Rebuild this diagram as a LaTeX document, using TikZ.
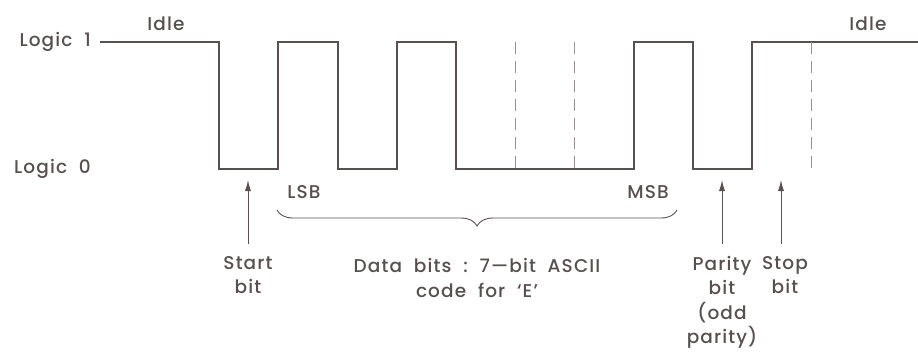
\documentclass[tikz,border=0pt]{standalone}
\usepackage{fontspec}
\setmainfont{Poppins}[UprightFont={* Medium}, LetterSpace=6]
\usepackage{xcolor}
\definecolor{wavegray}{RGB}{88,80,78}
\definecolor{guidegray}{RGB}{150,145,142}
\usetikzlibrary{arrows.meta, positioning, decorations.pathreplacing}

\begin{document}
\begin{tikzpicture}[x=1pt, y=-1pt,
    lbl/.style={font=\fontsize{18.5}{24.5}\selectfont, text=wavegray, align=center, inner sep=0pt},
    wave/.style={draw=wavegray, line width=1.3pt, line join=miter},
    guide/.style={draw=guidegray, line width=0.9pt, dash pattern=on 12pt off 7pt},
    pointer/.style={draw=wavegray, line width=0.9pt, -{Latex[length=11pt, width=6pt]}}]
  \useasboundingbox (0,0) rectangle (918,351);

  % Logic levels
  \node[lbl, anchor=east] (lvlone) at (91,42) {Logic\ \ 1};
  \node[lbl, anchor=east] (lvlzero) at (91,169) {Logic\ \ 0};
  \node[lbl] (idleleft) at (166,24) {Idle};
  \node[lbl] (idleright) at (868,24) {Idle};

  % Waveform for 'E' with odd parity
  \draw[wave] (100,42) -- (219,42) -- (219,169) -- (278,169) -- (278,42)
       -- (338,42) -- (338,169) -- (397,169) -- (397,42) -- (456,42)
       -- (456,169) -- (634,169) -- (634,42) -- (693,42) -- (693,169)
       -- (752,169) -- (752,42) -- (918,42);

  % Bit boundaries
  \foreach \bx in {515,574,811}
    \draw[guide] (\bx,42) -- (\bx,169);

  % LSB / MSB and brace
  \node[lbl] (lsb) at (304,192) {LSB};
  \node[lbl] (msb) at (648,192) {MSB};
  \coordinate (bracel) at (277,210);
  \coordinate (bracer) at (677,210);
  \draw[draw=wavegray, line width=0.9pt, decorate,
        decoration={brace, mirror, amplitude=16pt, raise=0pt}]
       (bracel) -- (bracer);
  \node[lbl] (databits) at (477,278) {Data\ \ bits\ \ :\ \ 7---bit\ \ ASCII\\code\ \ for\ \ `E'};

  % Start, parity and stop pointers
  \node[lbl, anchor=north] (startbit) at (248,256) {Start\\bit};
  \node[lbl, anchor=north] (paritybit) at (722,256) {Parity\\bit\\(odd\\parity)};
  \node[lbl, anchor=north] (stopbit) at (785,256) {Stop\\bit};
  \coordinate (starttail) at (248,244);
  \coordinate (paritytail) at (722,244);
  \coordinate (stoptail) at (781,244);
  \coordinate (starttip) at (248,180);
  \coordinate (paritytip) at (722,180);
  \coordinate (stoptip) at (781,180);
  \draw[pointer] (starttail) -- (starttip);
  \draw[pointer] (paritytail) -- (paritytip);
  \draw[pointer] (stoptail) -- (stoptip);
\end{tikzpicture}
\end{document}
